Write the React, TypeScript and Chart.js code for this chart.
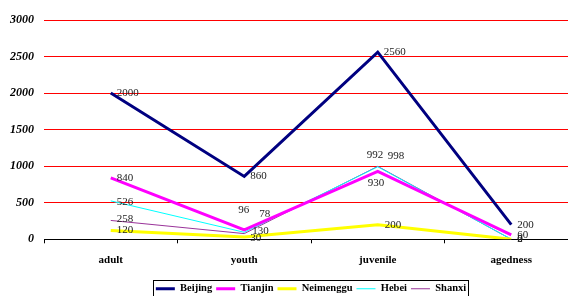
import React, { useEffect, useRef } from "react";
import { Chart, registerables } from "chart.js";

Chart.register(...registerables);

const categories = ["adult", "youth", "juvenile", "agedness"];
const beijing = [2000, 860, 2560, 200];
const tianjin = [840, 130, 930, 60];
const neimenggu = [120, 30, 200, 0];
const hebei = [526, 96, 992, 2];
const shanxi = [258, 78, 998, 0];
const yTicks = [0, 500, 1000, 1500, 2000, 2500, 3000];

const SERIF = "'Liberation Serif', 'Times New Roman', serif";

const labelPlugin = {
  id: "pointLabels",
  afterDatasetsDraw(chart: any) {
    const ctx = chart.ctx;
    ctx.save();
    ctx.font = `11px ${SERIF}`;
    ctx.fillStyle = "#222";
    ctx.textAlign = "left";
    ctx.textBaseline = "middle";
    chart.data.datasets.forEach((ds: any, i: number) => {
      const meta = chart.getDatasetMeta(i);
      meta.data.forEach((pt: any, j: number) => {
        const off = (ds.labelOffsets && ds.labelOffsets[j]) || [6, 0];
        ctx.fillText(String(ds.data[j]), pt.x + off[0], pt.y + off[1]);
      });
    });
    ctx.restore();
  },
};

const legendBoxPlugin = {
  id: "legendBox",
  afterDraw(chart: any) {
    const lg = chart.legend;
    if (!lg || !lg.legendHitBoxes || !lg.legendHitBoxes.length) return;
    const boxes = lg.legendHitBoxes;
    let l = Infinity, r = -Infinity, t = Infinity, b = -Infinity;
    boxes.forEach((h: any) => {
      l = Math.min(l, h.left);
      r = Math.max(r, h.left + h.width);
      t = Math.min(t, h.top);
      b = Math.max(b, h.top + h.height);
    });
    const ctx = chart.ctx;
    ctx.save();
    ctx.strokeStyle = "#000";
    ctx.lineWidth = 1;
    ctx.strokeRect(Math.round(l - 3) + 0.5, Math.round(t - 4) + 0.5, Math.round(r - l + 5), Math.round(b - t + 8));
    ctx.restore();
  },
};

export default function App() {
  const ref = useRef<HTMLCanvasElement | null>(null);
  useEffect(() => {
    if (!ref.current) return;
    const chart = new Chart(ref.current, {
      type: "line",
      data: {
        labels: categories,
        datasets: [
          { label: "Beijing", data: beijing, borderColor: "#000080", backgroundColor: "#000080", borderWidth: 3, labelOffsets: [[6, 0], [6, 0], [6, 0], [6, 0]] } as any,
          { label: "Tianjin", data: tianjin, borderColor: "#ff00ff", backgroundColor: "#ff00ff", borderWidth: 3, labelOffsets: [[6, 0], [8, 1], [-10, 12], [6, 0]] } as any,
          { label: "Neimenggu", data: neimenggu, borderColor: "#ffff00", backgroundColor: "#ffff00", borderWidth: 3, labelOffsets: [[6, 0], [6, 1], [7, 0], [6, 0]] } as any,
          { label: "Hebei", data: hebei, borderColor: "#00ffff", backgroundColor: "#00ffff", borderWidth: 1, labelOffsets: [[6, 1], [-6, -22], [-11, -12], [6, 0]] } as any,
          { label: "Shanxi", data: shanxi, borderColor: "#993399", backgroundColor: "#cc88cc", borderWidth: 1, labelOffsets: [[6, -1], [15, -19], [10, -10], [6, 0]] } as any,
        ],
      },
      options: {
        animation: false,
        responsive: false,
        maintainAspectRatio: false,
        layout: { padding: { top: 20, right: 0, left: 0, bottom: 0 } },
        elements: { point: { radius: 0, hoverRadius: 0 }, line: { tension: 0 } },
        plugins: {
          tooltip: { enabled: false },
          legend: {
            position: "bottom",
            fullSize: false,
            labels: {
              usePointStyle: true,
              pointStyle: "line",
              pointStyleWidth: 19,
              boxHeight: 3,
              padding: 4,
              color: "#000",
              font: { family: SERIF, size: 10.5, weight: "bold" },
            },
          },
        },
        scales: {
          x: {
            offset: true,
            grid: { display: true, drawOnChartArea: false, drawTicks: true, tickLength: 4, color: "#000", offset: true },
            border: { display: true, color: "#000", width: 1 },
            ticks: { color: "#000", padding: 10, font: { family: SERIF, size: 11, weight: "bold" } },
            title: { display: true, text: " ", font: { size: 2.5, lineHeight: 1.2 }, padding: { top: 0, bottom: 0 } },
          },
          y: {
            min: 0,
            max: 3000,
            afterBuildTicks: (ax: any) => { ax.ticks = yTicks.map((v) => ({ value: v })); },
            grid: { color: "#ff0000", lineWidth: 1, drawTicks: false },
            border: { display: false },
            ticks: {
              color: "#000",
              padding: 10,
              callback: (v: any) => String(v),
              font: { family: SERIF, size: 12, weight: "bold", style: "italic" },
            },
          },
        },
      } as any,
      plugins: [labelPlugin, legendBoxPlugin],
    });
    return () => chart.destroy();
  }, []);
  return (
    <div style={{ position: "fixed", left: 0, top: 0, width: 568, height: 296, overflow: "hidden", background: "#fff" }}>
      <canvas ref={ref} width={578} height={304} style={{ display: "block" }} />
    </div>
  );
}
